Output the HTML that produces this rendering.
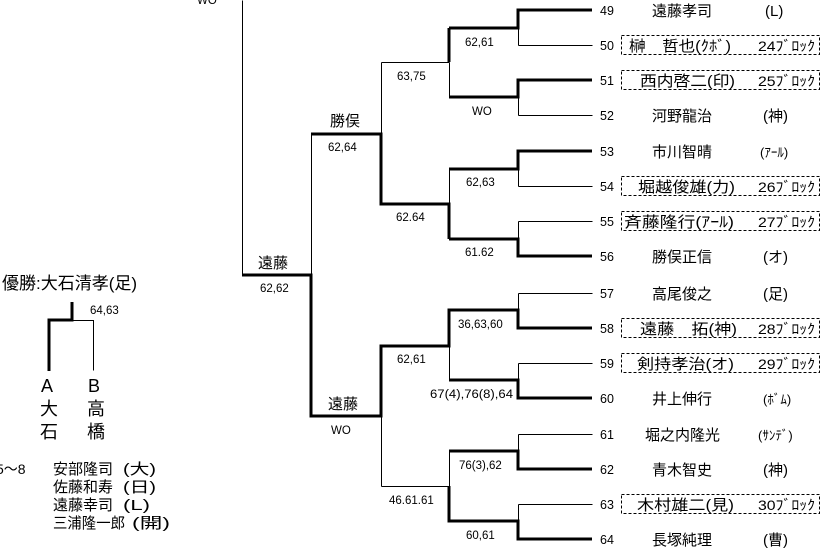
<!DOCTYPE html>
<html><head><meta charset="utf-8"><style>
html,body{margin:0;padding:0;background:#fff;}
svg{display:block;}
text{font-family:"Liberation Sans","Noto Sans CJK JP",sans-serif;fill:#000;}
.n{font-size:11.5px;}
.r{font-size:15px;}
</style></head><body>
<svg width="834" height="559" viewBox="0 0 834 559" xmlns="http://www.w3.org/2000/svg">
<g transform="translate(0.5,0.5)">
<g stroke="#000" fill="none" stroke-width="1">
<path d="M518 45H592 M518 28V45 M518 115H592 M518 97V115 M518 186H592 M518 169V186 M518 221H592 M518 221V239 M518 293H592 M518 293V310 M518 363H592 M518 363V380 M518 434H592 M518 434V451 M518 504H592 M518 504V521"/>
<path d="M449 62V97 M449 169V204 M449 346V380 M449 451V486 M449 486H381 M449 62H381 M381 62V134 M381 416V486 M311 134V275 M242 0V275"/>
<path d="M72 320H93V370"/>
</g>
</g>
<g stroke="#000" fill="none" stroke-width="3" shape-rendering="crispEdges">
<path d="M592 10H518V28H449 M592 80H518V97H449 M592 151H518V169H449 M592 256H518V239H449"/>
<path d="M449 28V62 M449 239V204H381V134H311 M592 328H518V310H449V346H381V416H311V275H242 M592 398H518V380H449"/>
<path d="M592 469H518V451H449 M592 539H518V521H449V486"/>
<path d="M72 302V320H49V371"/>
</g>
<g class="n">
<text x="197" y="4">WO</text>
<text x="465" y="46">62,61</text>
<text x="397" y="80">63,75</text>
<text x="472" y="115">WO</text>
<text x="328" y="151">62,64</text>
<text x="466" y="186">62,63</text>
<text x="396" y="221">62.64</text>
<text x="465" y="256">61.62</text>
<text x="260" y="292">62,62</text>
<text x="458" y="328">36,63,60</text>
<text x="397" y="363">62,61</text>
<text x="430" y="398" textLength="83" lengthAdjust="spacingAndGlyphs">67(4),76(8),64</text>
<text x="331" y="434">WO</text>
<text x="459" y="469">76(3),62</text>
<text x="389" y="504">46.61.61</text>
<text x="466" y="539">60,61</text>
<text x="90" y="314">64,63</text>
</g>
<g class="r">
<text x="330" y="126">勝俣</text>
<text x="258" y="268">遠藤</text>
<text x="328" y="409">遠藤</text>
</g>
<text x="2" y="289" style="font-size:17px">優勝:大石清孝(足)</text>
<g style="font-size:18px">
<text x="41" y="392">A</text><text x="40" y="415">大</text><text x="40" y="438">石</text>
<text x="88" y="392">B</text><text x="87" y="415">高</text><text x="87" y="438">橋</text>
</g>
<g style="font-size:15px">
<text x="-4" y="474" style="font-size:14px">5〜8</text>
<text x="53" y="474" textLength="60" lengthAdjust="spacingAndGlyphs">安部隆司</text><text x="123" y="474" textLength="33" lengthAdjust="spacingAndGlyphs">(大)</text>
<text x="53" y="492" textLength="60" lengthAdjust="spacingAndGlyphs">佐藤和寿</text><text x="123" y="492" textLength="33" lengthAdjust="spacingAndGlyphs">(日)</text>
<text x="53" y="510" textLength="60" lengthAdjust="spacingAndGlyphs">遠藤幸司</text><text x="123" y="510" textLength="27" lengthAdjust="spacingAndGlyphs">(L)</text>
<text x="53" y="528" textLength="72" lengthAdjust="spacingAndGlyphs">三浦隆一郎</text><text x="132" y="528" textLength="38" lengthAdjust="spacingAndGlyphs">(開)</text>
</g>
<g stroke="#000" fill="none" stroke-width="1" stroke-dasharray="3,2">
<rect x="621.5" y="35.5" width="198" height="19"/>
<rect x="621.5" y="70.5" width="198" height="19"/>
<rect x="621.5" y="176.5" width="198" height="19"/>
<rect x="621.5" y="211.5" width="198" height="19"/>
<rect x="621.5" y="318.5" width="198" height="19"/>
<rect x="621.5" y="353.5" width="198" height="19"/>
<rect x="621.5" y="494.5" width="198" height="19"/>
</g>
<g style="font-size:12.5px">
<text x="600" y="15">49</text><text x="600" y="50">50</text><text x="600" y="85">51</text><text x="600" y="120">52</text>
<text x="600" y="156">53</text><text x="600" y="191">54</text><text x="600" y="226">55</text><text x="600" y="261">56</text>
<text x="600" y="298">57</text><text x="600" y="333">58</text><text x="600" y="368">59</text><text x="600" y="403">60</text>
<text x="600" y="439">61</text><text x="600" y="474">62</text><text x="600" y="509">63</text><text x="600" y="544">64</text>
</g>
<g class="r">
<text x="652" y="16">遠藤孝司</text><text x="765" y="16">(L)</text>
<text x="629" y="51" textLength="102" lengthAdjust="spacingAndGlyphs">榊　哲也(ｸﾎﾞ)</text><text x="758" y="51" style="font-size:14px" textLength="57" lengthAdjust="spacingAndGlyphs">24ﾌﾞﾛｯｸ</text>
<text x="640" y="86" textLength="95" lengthAdjust="spacingAndGlyphs">西内啓二(印)</text><text x="758" y="86" style="font-size:14px" textLength="57" lengthAdjust="spacingAndGlyphs">25ﾌﾞﾛｯｸ</text>
<text x="652" y="121">河野龍治</text><text x="763" y="121">(神)</text>
<text x="652" y="157">市川智晴</text><text x="760" y="157" style="font-size:13px">(ｱｰﾙ)</text>
<text x="638" y="192" textLength="97" lengthAdjust="spacingAndGlyphs">堀越俊雄(力)</text><text x="758" y="192" style="font-size:14px" textLength="57" lengthAdjust="spacingAndGlyphs">26ﾌﾞﾛｯｸ</text>
<text x="624" y="227" textLength="110" lengthAdjust="spacingAndGlyphs">斉藤隆行(ｱｰﾙ)</text><text x="758" y="227" style="font-size:14px" textLength="57" lengthAdjust="spacingAndGlyphs">27ﾌﾞﾛｯｸ</text>
<text x="652" y="262">勝俣正信</text><text x="763" y="262">(オ)</text>
<text x="652" y="299">高尾俊之</text><text x="763" y="299">(足)</text>
<text x="640" y="334" textLength="97" lengthAdjust="spacingAndGlyphs">遠藤　拓(神)</text><text x="758" y="334" style="font-size:14px" textLength="57" lengthAdjust="spacingAndGlyphs">28ﾌﾞﾛｯｸ</text>
<text x="637" y="369" textLength="97" lengthAdjust="spacingAndGlyphs">剣持孝治(オ)</text><text x="758" y="369" style="font-size:14px" textLength="57" lengthAdjust="spacingAndGlyphs">29ﾌﾞﾛｯｸ</text>
<text x="652" y="404">井上伸行</text><text x="763" y="404" style="font-size:13px">(ﾎﾞﾑ)</text>
<text x="645" y="440">堀之内隆光</text><text x="758" y="440" style="font-size:13px">(ｻﾝﾃﾞ)</text>
<text x="652" y="475">青木智史</text><text x="763" y="475">(神)</text>
<text x="637" y="510" textLength="97" lengthAdjust="spacingAndGlyphs">木村雄二(見)</text><text x="758" y="510" style="font-size:14px" textLength="57" lengthAdjust="spacingAndGlyphs">30ﾌﾞﾛｯｸ</text>
<text x="652" y="545">長塚純理</text><text x="763" y="545">(曹)</text>
</g>
</svg>
</body></html>
